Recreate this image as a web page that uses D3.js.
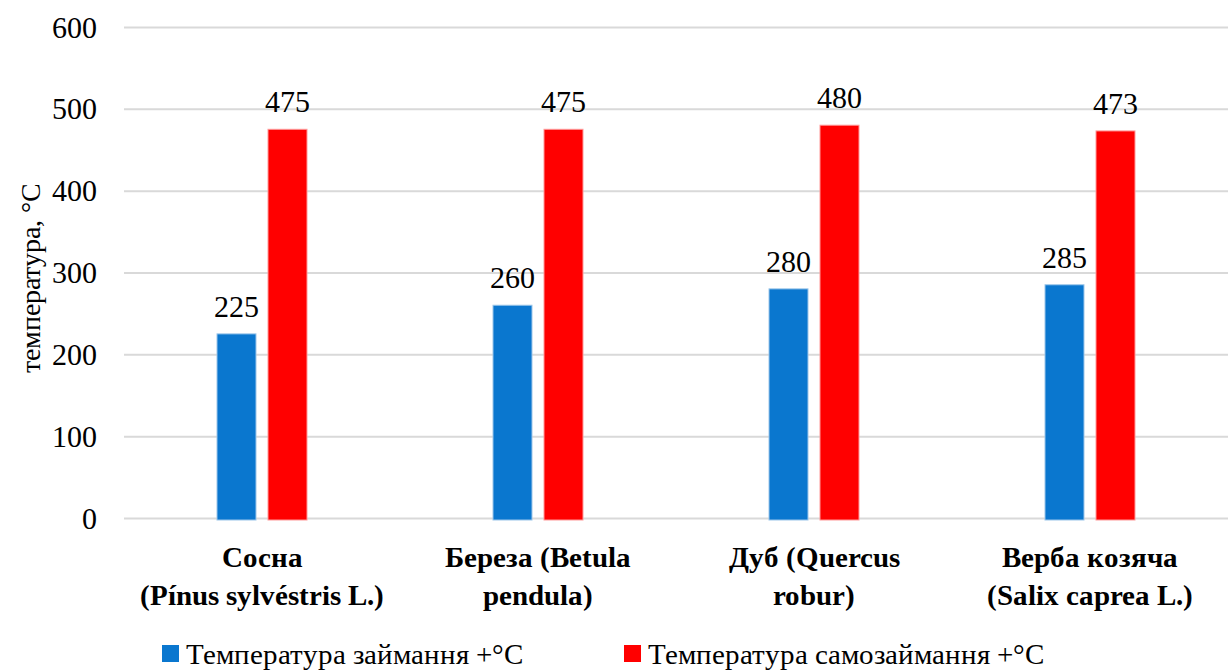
<!DOCTYPE html>
<html>
<head>
<meta charset="utf-8">
<script src="https://cdn.jsdelivr.net/npm/d3@7/dist/d3.min.js"></script>
<style>
  @font-face { font-family: "ChartSerif"; src: local("Liberation Serif"), local("LiberationSerif"), local("Liberation Serif Regular"); font-weight: normal; }
  @font-face { font-family: "ChartSerif"; src: local("Liberation Serif Bold"), local("LiberationSerif-Bold"); font-weight: bold; }
  body { margin: 0; background: #fff; }
  svg text { font-family: "ChartSerif", "Liberation Serif", "Times New Roman", serif; }
</style>
</head>
<body>
<div id="chart"></div>
<script>
// дані
const categories = [
  ["Сосна", "(Pínus sylvéstris L.)"],
  ["Береза (Betula", "pendula)"],
  ["Дуб (Quercus", "robur)"],
  ["Верба козяча", "(Salix caprea L.)"]
];
const seriesNames = ["Температура займання +°С", "Температура самозаймання +°С"];
const ignition = [225, 260, 280, 285];
const selfIgnition = [475, 475, 480, 473];
const yTicks = [0, 100, 200, 300, 400, 500, 600];
const colors = ["#0A77CF", "#FF0000"];

const width = 1228, height = 670;
const margin = { left: 124, right: 0, top: 27, bottom: 152 };

const svg = d3.select("#chart").append("svg")
  .attr("width", width)
  .attr("height", height)
  .style("display", "block");

const x = d3.scaleBand()
  .domain(d3.range(categories.length))
  .range([margin.left, width - margin.right]);

const y = d3.scaleLinear()
  .domain([0, 600])
  .range([height - margin.bottom, margin.top]);

// сітка
svg.append("g").selectAll("line")
  .data(yTicks)
  .enter().append("line")
  .attr("x1", margin.left)
  .attr("x2", width - margin.right)
  .attr("y1", d => y(d) + 0.5)
  .attr("y2", d => y(d) + 0.5)
  .attr("stroke", "#d9d9d9")
  .attr("stroke-width", 2);

// підписи осі Y
svg.append("g").selectAll("text")
  .data(yTicks)
  .enter().append("text")
  .attr("x", 97)
  .attr("y", d => y(d))
  .attr("dy", "0.35em")
  .attr("text-anchor", "end")
  .attr("font-size", 30)
  .text(d => d);

svg.append("text")
  .attr("transform", `translate(40, ${(y(0) + y(600)) / 2 + 5}) rotate(-90)`)
  .attr("text-anchor", "middle")
  .attr("font-size", 28)
  .text("температура, °С");

// стовпчики
const barW = 39, gap = 12;
const series = [ignition, selfIgnition];
series.forEach((vals, si) => {
  const off = si === 0 ? -(gap / 2 + barW) : gap / 2;
  const g = svg.append("g");
  g.selectAll("rect")
    .data(vals)
    .enter().append("rect")
    .attr("x", (d, i) => x(i) + x.bandwidth() / 2 + off)
    .attr("y", d => y(d))
    .attr("width", barW)
    .attr("height", d => y(0) - y(d) + 2)
    .attr("fill", colors[si])
    .attr("stroke", si === 0 ? "#9cc6ea" : "#ff9a9a")
    .attr("stroke-width", 1);
  g.selectAll("text")
    .data(vals)
    .enter().append("text")
    .attr("x", (d, i) => x(i) + x.bandwidth() / 2 + off + barW / 2)
    .attr("y", d => y(d) - 17)
    .attr("text-anchor", "middle")
    .attr("font-size", 30)
    .text(d => d);
});

// підписи категорій
const cat = svg.append("g").selectAll("text")
  .data(categories)
  .enter().append("text")
  .attr("x", (d, i) => x(i) + x.bandwidth() / 2)
  .attr("y", 567)
  .attr("text-anchor", "middle")
  .attr("font-size", 29)
  .attr("font-weight", "bold");
cat.each(function(d) {
  const t = d3.select(this);
  d.forEach((line, k) => {
    t.append("tspan")
      .attr("x", t.attr("x"))
      .attr("dy", k === 0 ? 0 : 38)
      .text(line);
  });
});

// легенда
const legendX = [162, 624];
seriesNames.forEach((name, i) => {
  svg.append("rect")
    .attr("x", legendX[i])
    .attr("y", 645)
    .attr("width", 17)
    .attr("height", 17)
    .attr("fill", colors[i]);
  svg.append("text")
    .attr("x", legendX[i] + 24)
    .attr("y", 664)
    .attr("font-size", 29)
    .text(name);
});
</script>
</body>
</html>
